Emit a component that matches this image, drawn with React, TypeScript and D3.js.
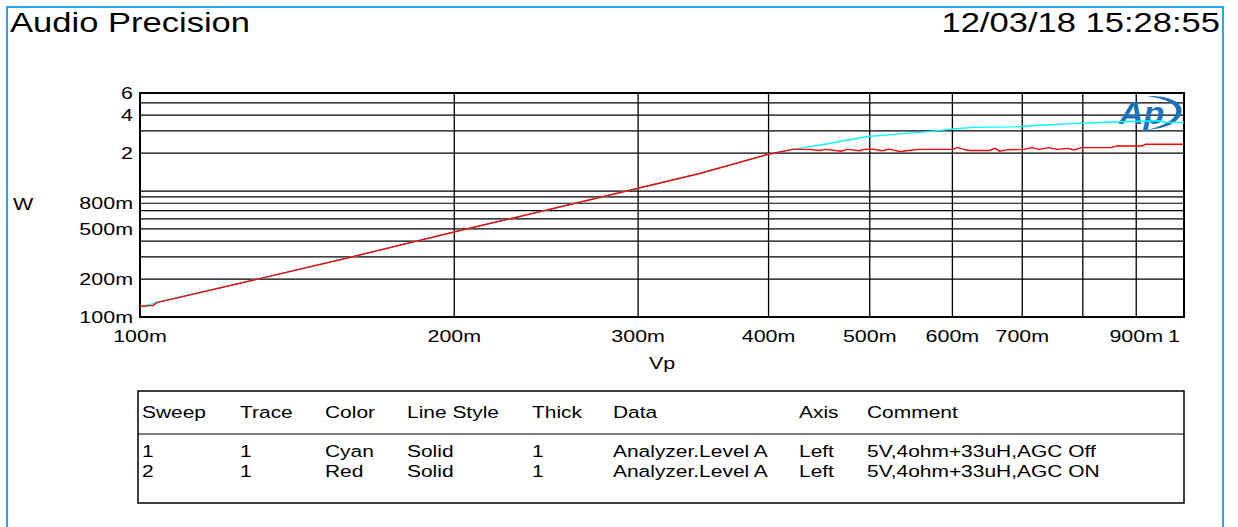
import React from 'react';
import * as d3 from 'd3';

const xTickValues = [0.1, 0.2, 0.3, 0.4, 0.5, 0.6, 0.7, 0.9, 1];
const xTickLabels = ['100m', '200m', '300m', '400m', '500m', '600m', '700m', '900m', '1'];
const xGridValues = [0.2, 0.3, 0.4, 0.5, 0.6, 0.7, 0.8, 0.9];
const yTickValues = [6, 4, 2, 0.8, 0.5, 0.2, 0.1];
const yTickLabels = ['6', '4', '2', '800m', '500m', '200m', '100m'];
const yGridValues = [0.2, 0.3, 0.4, 0.5, 0.6, 0.7, 0.8, 0.9, 1, 2, 3, 4, 5];

// Sweep 1 (cyan): AGC Off  [Vp, W]
const cyanData: [number, number][] = [
  [0.1, 0.121], [0.1022, 0.126], [0.1029, 0.127], [0.1038, 0.131], [0.1293, 0.199],
  [0.1598, 0.301], [0.2068, 0.506], [0.2755, 0.888], [0.3436, 1.377], [0.399, 1.95],
  [0.422, 2.14], [0.438, 2.25], [0.454, 2.36], [0.475, 2.53], [0.4985, 2.71],
  [0.534, 2.84], [0.566, 2.95], [0.601, 3.11], [0.627, 3.2], [0.686, 3.23],
  [0.728, 3.33], [0.78, 3.43], [0.84, 3.52], [0.946, 3.61], [0.96, 3.52], [1.0, 3.5],
];

// Sweep 2 (red): AGC ON  [Vp, W]
const redData: [number, number][] = [
  [0.1, 0.121], [0.1022, 0.123], [0.1029, 0.123], [0.1038, 0.13], [0.1293, 0.199],
  [0.1598, 0.301], [0.2068, 0.506], [0.2755, 0.888], [0.3436, 1.377], [0.399, 1.95],
  [0.422, 2.14], [0.438, 2.14], [0.4475, 2.1], [0.454, 2.14], [0.4695, 2.07],
  [0.475, 2.14], [0.4816, 2.12], [0.4887, 2.09], [0.494, 2.14], [0.503, 2.15],
  [0.514, 2.09], [0.522, 2.15], [0.5356, 2.05], [0.5415, 2.09], [0.5576, 2.14],
  [0.583, 2.14], [0.601, 2.14], [0.607, 2.22], [0.6136, 2.15], [0.623, 2.1],
  [0.651, 2.1], [0.659, 2.18], [0.666, 2.07], [0.676, 2.12], [0.702, 2.14],
  [0.715, 2.21], [0.726, 2.14], [0.742, 2.21], [0.7565, 2.14], [0.774, 2.18],
  [0.785, 2.12], [0.797, 2.21], [0.852, 2.21], [0.862, 2.28], [0.912, 2.28],
  [0.919, 2.35], [1.0, 2.35],
];

const legendHeaders = ['Sweep', 'Trace', 'Color', 'Line Style', 'Thick', 'Data', 'Axis', 'Comment'];
const legendRows = [
  ['1', '1', 'Cyan', 'Solid', '1', 'Analyzer.Level A', 'Left', '5V,4ohm+33uH,AGC Off'],
  ['2', '1', 'Red', 'Solid', '1', 'Analyzer.Level A', 'Left', '5V,4ohm+33uH,AGC ON'],
];
const legendColX = [142, 240, 325, 407, 532, 613, 799, 867];

const FONT = '"Liberation Sans", Arial, Helvetica, sans-serif';

function T({ x, y, s = 1.3, size = 16.5, anchor = 'start', fill = '#000', children }: any) {
  return (
    <text
      transform={`translate(${x},${y}) scale(${s},1)`}
      fontSize={size}
      fontFamily={FONT}
      textAnchor={anchor}
      fill={fill}
    >
      {children}
    </text>
  );
}

export default function App() {
  const W = 1238, H = 527;
  const left = 140, right = 1184, top = 93, bottom = 317;
  const x = d3.scaleLog().domain([0.1, 1]).range([left, right]);
  const y = d3.scaleLog().domain([0.1, 6]).range([bottom, top]);
  const line = d3.line<[number, number]>().x(d => x(d[0])).y(d => y(d[1]));

  const legTop = 391, legSep = 434, legBottom = 503;

  return (
    <svg width={W} height={H} style={{ position: 'absolute', left: 0, top: 0, background: '#fff' }}>
      <rect x={0} y={0} width={W} height={H} fill="#fff" />
      {/* outer frame */}
      <rect x={7} y={7} width={1216} height={540} fill="none" stroke="#1EAAF1" strokeWidth={2} />

      <T x={10} y={32} size={27} s={1.28}>Audio Precision</T>
      <T x={1220} y={32} size={27} s={1.28} anchor="end">12/03/18 15:28:55</T>

      {/* grid */}
      {yGridValues.map(v => (
        <line key={'yg' + v} x1={left} x2={right} y1={y(v)} y2={y(v)} stroke="#000" strokeWidth={1.2} />
      ))}
      {xGridValues.map(v => (
        <line key={'xg' + v} x1={x(v)} x2={x(v)} y1={top} y2={bottom} stroke="#000" strokeWidth={1.3} />
      ))}
      <rect x={left} y={top} width={right - left} height={bottom - top} fill="none" stroke="#000" strokeWidth={2} />

      {/* AP logo */}
      <g fill="#1B72B8" stroke="none">
        <text x={0} y={0} fontSize={31} fontWeight="bold" fontStyle="italic" fontFamily={FONT}
          transform="translate(1119,124) scale(1.1,1)">Ap</text>
        <path d="M1146,96 C1172,95 1185,104 1181,114 C1178,123 1166,128 1148,130 C1165,125 1174,120 1176,113 C1178,105 1168,99 1146,96 Z" />
      </g>

      {/* data */}
      <path d={line(cyanData) || ''} fill="none" stroke="#00FFFF" strokeWidth={1.4} />
      <path d={line(redData) || ''} fill="none" stroke="#FF0000" strokeWidth={1.4} />

      {/* y ticks */}
      {yTickValues.map((v, i) => (
        <T key={'yt' + v} x={133} y={y(v) + 6} anchor="end">{yTickLabels[i]}</T>
      ))}
      <T x={23} y={210} anchor="middle">W</T>

      {/* x ticks */}
      {xTickValues.map((v, i) => (
        <T key={'xt' + v} x={v === 1 ? x(v) - 4 : x(v)} y={342} anchor={v === 1 ? 'end' : 'middle'}>{xTickLabels[i]}</T>
      ))}
      <T x={662} y={369} anchor="middle">Vp</T>

      {/* legend */}
      <rect x={138} y={legTop} width={right - 138} height={legBottom - legTop} fill="none" stroke="#000" strokeWidth={1.5} />
      <line x1={138} x2={right} y1={legSep} y2={legSep} stroke="#000" strokeWidth={1.2} />
      {legendHeaders.map((h, i) => (
        <T key={'lh' + i} x={legendColX[i]} y={418} size={16.5} s={1.27}>{h}</T>
      ))}
      {legendRows.map((row, r) =>
        row.map((c, i) => (
          <T key={'lr' + r + i} x={legendColX[i]} y={457 + r * 20} size={16.5} s={1.27}>{c}</T>
        ))
      )}
    </svg>
  );
}
